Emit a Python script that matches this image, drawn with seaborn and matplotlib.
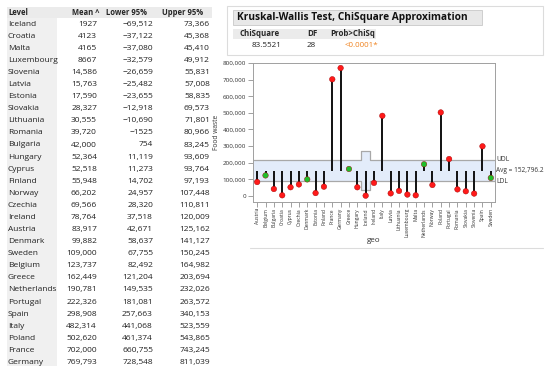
import matplotlib
matplotlib.use("Agg")
import matplotlib.pyplot as plt
import matplotlib.transforms as mtransforms
from matplotlib.patches import Rectangle
from matplotlib.lines import Line2D
import numpy as np
import pandas as pd
import seaborn as sns

# ---------------- data ----------------
levels = ["Iceland", "Croatia", "Malta", "Luxembourg", "Slovenia", "Latvia", "Estonia",
          "Slovakia", "Lithuania", "Romania", "Bulgaria", "Hungary", "Cyprus", "Finland",
          "Norway", "Czechia", "Ireland", "Austria", "Denmark", "Sweden", "Belgium",
          "Greece", "Netherlands", "Portugal", "Spain", "Italy", "Poland", "France", "Germany"]
means = [1927, 4123, 4165, 8667, 14586, 15763, 17590, 28327, 30555, 39720, 42000, 52364,
         52518, 55948, 66202, 69566, 78764, 83917, 99882, 109000, 123737, 162449, 190781,
         222326, 298908, 482314, 502620, 702000, 769793]
lower95 = [-69512, -37122, -37080, -32579, -26659, -25482, -23655, -12918, -10690, -1525,
           754, 11119, 11273, 14702, 24957, 28320, 37518, 42671, 58637, 67755, 82492,
           121204, 149535, 181081, 257663, 441068, 461374, 660755, 728548]
upper95 = [73366, 45368, 45410, 49912, 55831, 57008, 58835, 69573, 71801, 80966, 83245,
           93609, 93764, 97193, 107448, 110811, 120009, 125162, 141127, 150245, 164982,
           203694, 232026, 263572, 340153, 523559, 543865, 743245, 811039]

avg_value = 152796.2
udl_default, ldl_default = 217300, 88300
limit_overrides = {"Iceland": (267800, 37800)}   # (UDL, LDL) for groups with other n

chi_square = "83.5521"
df_value = "28"
prob = "<0.0001*"

# ---------------- figure ----------------
W, H = 550, 372
sns.set_style("white")
plt.rcParams["font.family"] = ["Open Sans", "DejaVu Sans"]
fig = plt.figure(figsize=(W / 100, H / 100), dpi=100)

def fx(x):
    return x / W

def fy(y):
    return 1 - y / H

def frect(x0, y0, x1, y1, **kw):
    fig.patches.append(Rectangle((fx(x0), fy(y1)), (x1 - x0) / W, (y1 - y0) / H,
                                 transform=fig.transFigure, **kw))

# ---------------- left table ----------------
def fmt(v):
    s = f"{abs(v):,}" if abs(v) >= 10000 else f"{abs(v)}"
    return ("\u2212" + s) if v < 0 else s

frect(6.5, 6.5, 212, 18, facecolor="#ebebeb", edgecolor="none")
frect(6.5, 18, 57, 366, facecolor="#f0f0f0", edgecolor="none")
tfs = 6.0
hfs = 5.5
hy = 12.5
fig.text(fx(8), fy(hy), "Level", fontsize=hfs, fontweight="bold", va="center", ha="left")
fig.text(fx(99.5), fy(hy), "Mean ^", fontsize=hfs, fontweight="bold", va="center", ha="right")
fig.text(fx(147.5), fy(hy), "Lower 95%", fontsize=hfs, fontweight="bold", va="center", ha="right")
fig.text(fx(203.5), fy(hy), "Upper 95%", fontsize=hfs, fontweight="bold", va="center", ha="right")
for i, (lv, m, lo, up) in enumerate(zip(levels, means, lower95, upper95)):
    y = 24.2 + i * 12.08
    fig.text(fx(8), fy(y), lv, fontsize=tfs, va="center", ha="left", color="#222222")
    fig.text(fx(97), fy(y), fmt(m), fontsize=tfs, va="center", ha="right", color="#222222")
    fig.text(fx(153), fy(y), fmt(lo), fontsize=tfs, va="center", ha="right", color="#222222")
    fig.text(fx(210), fy(y), fmt(up), fontsize=tfs, va="center", ha="right", color="#222222")

# ---------------- Kruskal-Wallis box ----------------
frect(227, 6, 543, 55, facecolor="none", edgecolor="#dcdcdc", linewidth=0.8)
frect(233, 10, 482, 24.5, facecolor="#e8e8e8", edgecolor="#c8c8c8", linewidth=0.6)
fig.text(fx(237), fy(17.3), "Kruskal-Wallis Test, ChiSquare Approximation",
         fontsize=7.3, fontweight="bold", va="center", ha="left", color="#111111")
frect(233, 28.5, 376, 38.5, facecolor="#ebebeb", edgecolor="none")
fig.text(fx(240), fy(33.5), "ChiSquare", fontsize=5.7, fontweight="bold", va="center", ha="left")
fig.text(fx(317), fy(33.5), "DF", fontsize=5.7, fontweight="bold", va="center", ha="right")
fig.text(fx(375), fy(33.5), "Prob>ChiSq", fontsize=5.7, fontweight="bold", va="center", ha="right")
fig.text(fx(282), fy(45.3), chi_square, fontsize=5.8, va="center", ha="right", color="#222222")
fig.text(fx(316), fy(45.3), df_value, fontsize=5.8, va="center", ha="right", color="#222222")
fig.text(fx(378), fy(45.3), prob, fontsize=5.8, va="center", ha="right", color="#f0821e")
fig.lines.append(Line2D([fx(250), fx(543)], [fy(248), fy(248)], transform=fig.transFigure,
                        color="#dcdcdc", linewidth=0.8))

# ---------------- ANOM chart ----------------
geo = sorted(levels)
lookup = dict(zip(levels, means))
geo_means = [lookup[g] for g in geo]
udl = [limit_overrides.get(g, (udl_default, ldl_default))[0] for g in geo]
ldl = [limit_overrides.get(g, (udl_default, ldl_default))[1] for g in geo]
status = ["in" if lo <= m <= up else "out" for m, lo, up in zip(geo_means, ldl, udl)]
df = pd.DataFrame({"geo": geo, "Food waste": geo_means, "status": status})

ax = fig.add_axes([fx(253), fy(201.8), (495 - 253) / W, (201.8 - 63) / H])
xpos = np.arange(len(geo))

# decision limit band
ax.bar(xpos, np.array(udl) - np.array(ldl), bottom=ldl, width=1.0,
       color="#e3ecfa", edgecolor="none", zorder=1)
xs, us, ls = [], [], []
for i in xpos:
    xs += [i - 0.5, i + 0.5]
    us += [udl[i], udl[i]]
    ls += [ldl[i], ldl[i]]
ax.plot(xs, us, color="#a8a8a8", linewidth=0.9, zorder=2)
ax.plot(xs, ls, color="#a8a8a8", linewidth=0.9, zorder=2)

# stems
ax.vlines(xpos, avg_value, df["Food waste"], color="#111111", linewidth=1.4, zorder=3)
sns.scatterplot(data=df, x="geo", y="Food waste", hue="status",
                palette={"in": "#1fbf2a", "out": "#ff1a1a"}, s=16,
                edgecolor="#a00000", linewidth=0.3, legend=False, zorder=4, ax=ax)

ax.set_xlim(-0.5, len(geo) - 0.5)
ax.set_ylim(-35000, 800000)
ax.set_yticks(np.arange(0, 800001, 100000))
ax.set_yticklabels([f"{v:,}" for v in range(0, 800001, 100000)])
ax.set_xticks(xpos)
ax.set_xticklabels(geo, rotation=90)
ax.tick_params(axis="both", which="both", length=3.5, width=0.6, color="#909090",
               labelsize=4.5, labelcolor="#333333", pad=1.5, left=True, bottom=True)
ax.tick_params(axis="x", labelsize=3.6, pad=1.0)
for sp in ax.spines.values():
    sp.set_color("#a0a0a0")
    sp.set_linewidth(0.7)
ax.set_ylabel("Food waste", fontsize=4.8, color="#333333", labelpad=1.5)
ax.set_xlabel("geo", fontsize=5.8, color="#333333")
ax.xaxis.set_label_coords(0.5, -(237.5 - 201.8) / 138.8)

trans = mtransforms.blended_transform_factory(ax.transAxes, ax.transData)
ax.text(1.006, udl_default, "UDL", transform=trans, fontsize=4.9, va="center", ha="left", color="#333333")
ax.text(1.006, avg_value, f"Avg = {avg_value:,.1f}", transform=trans, fontsize=4.7,
        va="center", ha="left", color="#333333")
ax.text(1.006, ldl_default, "LDL", transform=trans, fontsize=4.9, va="center", ha="left", color="#333333")

fig.savefig("out.png", dpi=100)
